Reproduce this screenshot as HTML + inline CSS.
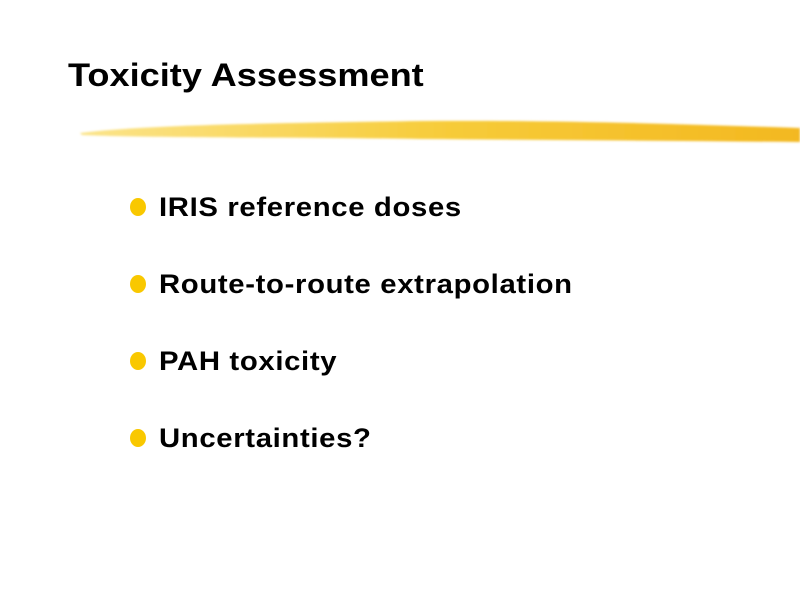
<!DOCTYPE html>
<html><head><meta charset="utf-8"><style>
body{margin:0;width:800px;height:600px;background:#fff;overflow:hidden;position:relative;font-family:"Liberation Sans",Arial,sans-serif;}
.t{position:absolute;left:68px;top:57px;font-size:32px;line-height:37px;font-weight:bold;white-space:nowrap;transform:scaleX(1.13);transform-origin:0 0;}
.b{position:absolute;left:159px;font-size:27px;line-height:31px;font-weight:bold;white-space:nowrap;letter-spacing:0.6px;transform:scaleX(1.085);transform-origin:0 0;}
.d{position:absolute;left:130px;width:16px;height:18px;border-radius:50%;background:#f9c800;}
</style></head><body>
<div class="t">Toxicity Assessment</div>
<svg style="position:absolute;left:0;top:0" width="800" height="600">
<defs><linearGradient id="g" x1="0" x2="1"><stop offset="0" stop-color="#fbe48a"/><stop offset="0.5" stop-color="#f7cc3a"/><stop offset="1" stop-color="#f3b820"/></linearGradient>
<filter id="f"><feGaussianBlur stdDeviation="1"/></filter></defs>
<path d="M80 133 C150 124 300 123 420 121 C560 120 680 124 800 128 L800 142 C680 141 560 140 420 139 C300 137 150 138 82 135 Z" fill="url(#g)" filter="url(#f)"/>
</svg>
<div class="d" style="top:198px"></div><div class="b" style="top:192px">IRIS reference doses</div>
<div class="d" style="top:275px"></div><div class="b" style="top:269px">Route-to-route extrapolation</div>
<div class="d" style="top:352px"></div><div class="b" style="top:346px">PAH toxicity</div>
<div class="d" style="top:429px"></div><div class="b" style="top:423px">Uncertainties?</div>
</body></html>
